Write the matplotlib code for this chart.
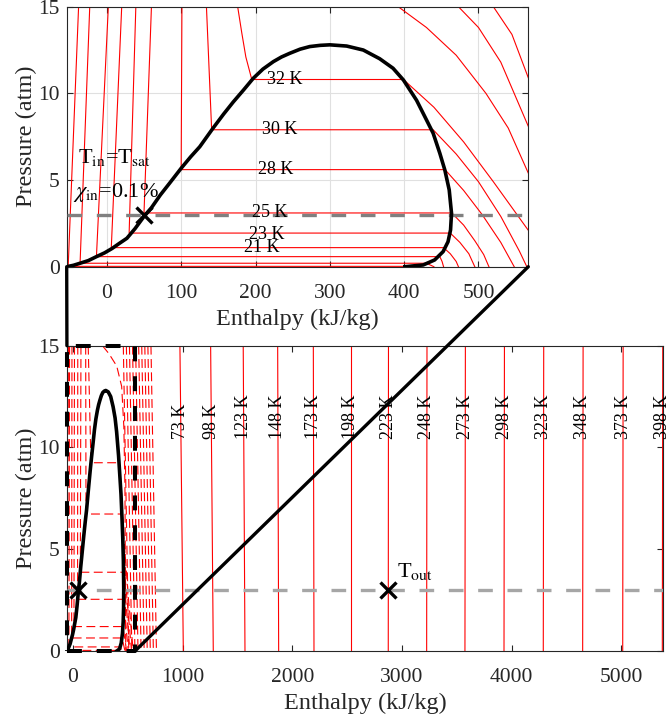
import matplotlib
matplotlib.use('Agg')
import matplotlib.pyplot as plt
from matplotlib.patches import ConnectionPatch

plt.rcParams['font.family'] = ['Liberation Serif', 'DejaVu Serif']
plt.rcParams['mathtext.fontset'] = 'stix'

# ---------------- data ----------------
# saturation dome (enthalpy kJ/kg, pressure atm)
dome_h = [-54, -45, -36, -25, -14, -3, 7, 17, 27, 38, 50, 60, 72, 85, 100, 113, 125, 143,
          157, 170, 184, 197, 210, 224, 235, 246, 260, 273, 287, 300,
          322.6, 345, 367, 385, 399, 416.7, 430, 439, 448, 454.7, 460.6, 463.7, 462.4,
          459, 452.4, 441, 425.6, 401]
dome_p = [0, 0.08, 0.2, 0.35, 0.58, 0.8, 1.05, 1.35, 1.64, 2.2, 2.9, 3.4, 4.14, 4.85, 5.68,
          6.35, 6.92, 8.0, 8.8, 9.5, 10.2, 10.87, 11.4, 11.83, 12.1, 12.31, 12.55, 12.7,
          12.77, 12.8,
          12.73, 12.5, 12.0, 11.45, 10.77, 9.6, 8.47, 7.7, 6.54, 5.58, 4.43, 3.08, 2.12,
          1.44, 0.87, 0.39, 0.1, 0]

# low-temperature isotherms shown in the zoomed view (solid)
top_iso_h = [
    [-38, -52, 405, 412],
    [-23, -36, 430, 440],
    [2, -14, 448, 451, 453],
    [20, 6, 453, 462, 470, 473],
    [39, 30, 462, 475, 487, 495],
    [60, 50, 464, 480, 495, 507, 514],
    [101, 100, 455, 480, 505, 530, 548],
    [134, 141, 439, 470, 500, 530, 555, 565],
    [176, 181.5, 187, 195, 399, 440, 480, 520, 567],
    [392, 430, 470, 510, 540, 567],
    [473, 500, 530, 567],
    [520, 545, 567],
]
top_iso_p = [
    [15, 0.02, 0.02, 0],
    [15, 0.2, 0.2, 0],
    [15, 0.58, 0.58, 0.3, 0],
    [15, 1.1, 1.1, 0.75, 0.3, 0],
    [15, 1.94, 1.94, 1.4, 0.75, 0],
    [15, 3.1, 3.1, 2.4, 1.5, 0.7, 0],
    [15, 5.6, 5.6, 4.4, 3.0, 1.4, 0],
    [15, 7.9, 7.9, 6.5, 4.9, 2.9, 0.9, 0],
    [15, 13.5, 12.1, 10.8, 10.8, 9.2, 7.2, 4.9, 2.1],
    [15, 13.8, 12.2, 10.0, 8.0, 5.4],
    [15, 13.8, 11.8, 8.1],
    [15, 13.4, 10.9],
]
top_label_T = [21, 23, 25, 28, 30, 32]
top_label_h = [208, 215, 219.5, 226.6, 233, 240]
top_label_p = [1.13, 1.88, 3.1, 5.6, 7.9, 10.8]

# low-temperature isotherms in the full view (dashed)
bot_iso_h = [
    [-40, -52, 410, 420],
    [-30, -36, 434, 445],
    [-8, -11, 449, 475],
    [15, 10, 457, 490],
    [45, 43, 462, 505],
    [74, 68, 461, 520],
    [117, 120, 448, 470, 535],
    [140, 165, 422, 460, 500, 550],
    [270, 330, 400, 445, 465, 475, 482],
    [460, 510], [488, 538], [516, 566], [544, 594], [572, 622],
    [600, 650], [628, 678], [656, 706], [684, 734], [712, 762],
]
bot_iso_p = [
    [15, 0.03, 0.03, 0],
    [15, 0.2, 0.2, 0],
    [15, 0.64, 0.64, 0],
    [15, 1.2, 1.2, 0],
    [15, 2.54, 2.54, 0],
    [15, 3.87, 3.87, 0],
    [15, 6.73, 6.73, 4, 0],
    [15, 9.25, 9.25, 6, 3, 0],
    [15, 14.6, 14.0, 13.0, 11.0, 8.0, 0],
    [15, 0], [15, 0], [15, 0], [15, 0], [15, 0],
    [15, 0], [15, 0], [15, 0], [15, 0], [15, 0],
]

# warm isotherms (K) and their enthalpy at 0 and 15 atm
hot_T = [73, 98, 123, 148, 173, 198, 223, 248, 273, 298, 323, 348, 373, 398]
hot_h0 = [1007, 1280, 1569, 1876, 2198, 2532, 2875, 3225, 3574, 3930, 4288, 4647, 5012, 5373]
hot_h15 = [976, 1256, 1553, 1867, 2192, 2532, 2877, 3228, 3578, 3934, 4292, 4651, 5016, 5377]

p_line = 3.0
in_h, in_p = 50, 3.0
out_h, out_p = 2875, 3.0

top_xlim = (-54, 567)
bot_xlim = (-56, 5382)
p_lim = (0, 15)

# ---------------- figure ----------------
W, H = 671, 715
fig = plt.figure(figsize=(W / 100, H / 100), dpi=100)
ax_t = fig.add_axes([66.7 / W, 1 - 266.7 / H, (528.3 - 66.7) / W, (266.7 - 6.7) / H])
ax_b = fig.add_axes([66.7 / W, 1 - 651 / H, (663.3 - 66.7) / W, (651 - 345.7) / H])

axc = '#262626'
fs_tick = 15.5
fs_axlab = 17.5
fs_lab = 13
fs_txt = 16

def style(ax):
    for s in ax.spines.values():
        s.set_color(axc)
        s.set_linewidth(0.8)
    ax.tick_params(direction='in', top=True, right=True, length=4.5, width=0.8,
                   colors=axc, labelsize=fs_tick)
    ax.tick_params(axis='x', pad=12.5)
    ax.tick_params(axis='y', pad=5)
    ax.set_xlabel('Enthalpy (kJ/kg)', fontsize=fs_axlab, color=axc, labelpad=4)
    ax.set_ylabel('Pressure (atm)', fontsize=fs_axlab, color=axc, labelpad=1)

# --- top (zoomed) axes ---
for h, p in zip(top_iso_h, top_iso_p):
    ax_t.plot(h, p, color='red', lw=0.8, zorder=2)
for T, h, p in zip(top_label_T, top_label_h, top_label_p):
    ax_t.text(h, p, f'{T} K', fontsize=fs_lab, ha='center', va='center', zorder=6)
ax_t.plot(top_xlim, [p_line, p_line], color='#808080', lw=2.4, dashes=(4.4, 4.4), zorder=4)
ax_t.plot(dome_h, dome_p, color='k', lw=2.6, zorder=5, solid_joinstyle='round')
ax_t.plot([in_h], [in_p], 'x', color='k', ms=11, mew=2.4, zorder=7)
ax_t.text(-38.5, 6.0, r'T$_{\rm in}$=T$_{\rm sat}$', fontsize=fs_txt, zorder=7)
ax_t.text(-46, 4.05, r'$\chi_{\rm in}$=0.1%', fontsize=fs_txt, zorder=7)
ax_t.set_xlim(top_xlim)
ax_t.set_ylim(p_lim)
ax_t.set_xticks([0, 100, 200, 300, 400, 500])
ax_t.set_yticks([0, 5, 10, 15])
ax_t.grid(True, color='#e0e0e0', lw=0.8)
ax_t.set_axisbelow(True)
style(ax_t)

# --- bottom (full) axes ---
for h, p in zip(bot_iso_h, bot_iso_p):
    ax_b.plot(h, p, color='red', lw=0.8, dashes=(8, 4), zorder=2)
for T, h0, h15 in zip(hot_T, hot_h0, hot_h15):
    ax_b.plot([h0, h15], [0, 15], color='red', lw=0.8, zorder=2)
    hl = h0 + (h15 - h0) * 10.4 / 15
    ax_b.text(hl, 10.4, f'{T} K', rotation=90, rotation_mode='anchor',
              ha='left', va='center', fontsize=fs_lab, zorder=6)
ax_b.plot(bot_xlim, [p_line, p_line], color='#a6a6a6', lw=2.4, dashes=(4.4, 4.4), zorder=3)
ax_b.plot(dome_h, dome_p, color='k', lw=2.6, zorder=5, solid_joinstyle='round')
box_x = [top_xlim[0], top_xlim[1], top_xlim[1], top_xlim[0], top_xlim[0]]
box_p = [p_lim[0], p_lim[0], p_lim[1], p_lim[1], p_lim[0]]
ax_b.plot(box_x, box_p, color='k', lw=2.9, dashes=(3.7, 3.7), zorder=6, clip_on=False)
ax_b.plot([in_h, out_h], [in_p, out_p], 'x', color='k', ms=11, mew=2.4, zorder=7)
ax_b.text(2952, 3.65, r'T$_{\rm out}$', fontsize=fs_txt, zorder=7)
ax_b.set_xlim(bot_xlim)
ax_b.set_ylim(p_lim)
ax_b.set_xticks([0, 1000, 2000, 3000, 4000, 5000])
ax_b.set_yticks([0, 5, 10, 15])
style(ax_b)

# connectors between the zoom box and the zoomed view
for (xa, xb, yb) in [(top_xlim[0], top_xlim[0], p_lim[1]), (top_xlim[1], top_xlim[1], p_lim[0])]:
    con = ConnectionPatch(xyA=(xa, p_lim[0]), coordsA=ax_t.transData,
                          xyB=(xb, yb), coordsB=ax_b.transData,
                          color='k', lw=2.4, zorder=10)
    fig.add_artist(con)

fig.savefig('out.png', dpi=100)
